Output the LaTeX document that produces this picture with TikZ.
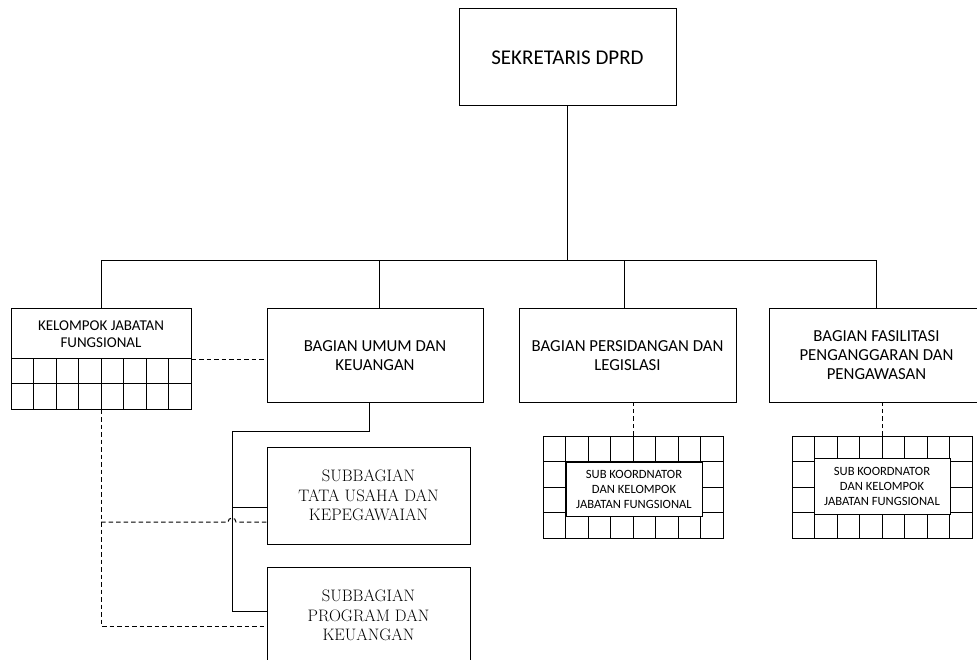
\documentclass[tikz,border=0pt]{standalone}
\usepackage{fontspec}
\setsansfont{Carlito}
\usepackage{tikz}

\begin{document}
\begin{tikzpicture}[x=1pt, y=-1pt, line width=1pt,
  box/.style={shape=rectangle, draw=black, align=center, inner sep=0pt},
  unit/.style={box, font=\sffamily\fontsize{16.8}{19}\selectfont},
  subunit/.style={box, minimum width=203pt, minimum height=97pt, font=\fontsize{16.6}{19.5}\selectfont},
  dashline/.style={dash pattern=on 4.5pt off 3pt}]
  \useasboundingbox (0,0) rectangle (977,660);

  % kepala
  \node[box, minimum width=217pt, minimum height=97pt, font=\sffamily\fontsize{21}{24}\selectfont] (SEK) at (567.5,57.5) {SEKRETARIS DPRD};
  \coordinate (bus) at (567.5,261);

  % bagian
  \node[box, minimum width=180pt, minimum height=100pt] (KJF) at (101,359) {};
  \node[font=\sffamily\fontsize{15}{16.7}\selectfont, align=center] (KJFtext) at (101,334) {KELOMPOK JABATAN\\FUNGSIONAL};
  \node[unit, minimum width=216pt, minimum height=93pt] (BUK) at (375,355.5) {BAGIAN UMUM DAN\\KEUANGAN};
  \node[unit, minimum width=217pt, minimum height=93pt] (BPL) at (627.5,355.5) {BAGIAN PERSIDANGAN DAN\\LEGISLASI};
  \node[unit, minimum width=215pt, minimum height=93pt] (BFP) at (876.5,355.5) {BAGIAN FASILITASI\\PENGANGGARAN DAN\\PENGAWASAN};

  % kotak jabatan fungsional
  \draw (11,358) -- (191,358);
  \draw (11,383.5) -- (191,383.5);
  \foreach \i in {1,...,7}
    \draw ({11+22.5*\i},358) -- ({11+22.5*\i},409);

  % sub koordinator
  \node[box, minimum width=180pt, minimum height=102pt] (GPL) at (633,487) {};
  \node[box, minimum width=180pt, minimum height=102pt] (GFP) at (882,487) {};
  \foreach \g in {543,792} {
    \foreach \i in {1,...,7}
      \draw ({\g+22.5*\i},436) -- ({\g+22.5*\i},538);
    \foreach \j in {1,2,3}
      \draw (\g,{436+25.5*\j}) -- (\g+180,{436+25.5*\j});
  }
  \node[box, fill=white, minimum width=136pt, minimum height=54pt, font=\sffamily\fontsize{12.6}{15}\selectfont] (SKPL) at (634,489) {SUB KOORDNATOR\\DAN KELOMPOK\\JABATAN FUNGSIONAL};
  \node[box, fill=white, minimum width=136pt, minimum height=56pt, font=\sffamily\fontsize{12.6}{15}\selectfont] (SKFP) at (882,486) {SUB KOORDNATOR\\DAN KELOMPOK\\JABATAN FUNGSIONAL};

  % subbagian
  \node[subunit] (TUK) at (368.5,495.5) {SUBBAGIAN\\TATA USAHA DAN\\KEPEGAWAIAN};
  \node[subunit] (PK) at (368.5,615.5) {SUBBAGIAN\\PROGRAM DAN\\KEUANGAN};

  % garis komando
  \draw (SEK.south) -- (bus);
  \draw (KJF.north) -- (KJF.north |- bus) -- (BFP.north |- bus) -- (BFP.north);
  \draw ([xshift=4pt]BUK.north |- bus) -- ([xshift=4pt]BUK.north);
  \draw ([xshift=-3pt]BPL.north |- bus) -- ([xshift=-3pt]BPL.north);
  \coordinate (spine) at (232,431);
  \draw ([xshift=-6pt]BUK.south) |- (spine) |- ([yshift=4.5pt]PK.west);
  \draw (spine |- TUK.west) ++(0,11.5) -- ([yshift=-11.5pt]TUK.west);

  % garis koordinasi
  \coordinate (tukd) at ([yshift=-26.5pt]TUK.west);
  \draw[dashline] (KJF.east) -- (KJF.east -| BUK.west);
  \draw[dashline] (KJF.south) |- ([yshift=-10.5pt]PK.west);
  \draw[dashline] (KJF.south |- tukd) -- ([xshift=-4pt]spine |- tukd) arc[start angle=180, end angle=0, radius=4pt] -- (tukd);
  \draw[dashline] (GPL.north) -- (GPL.north |- BPL.south);
  \draw[dashline] (GFP.north) -- (GFP.north |- BFP.south);
\end{tikzpicture}
\end{document}
